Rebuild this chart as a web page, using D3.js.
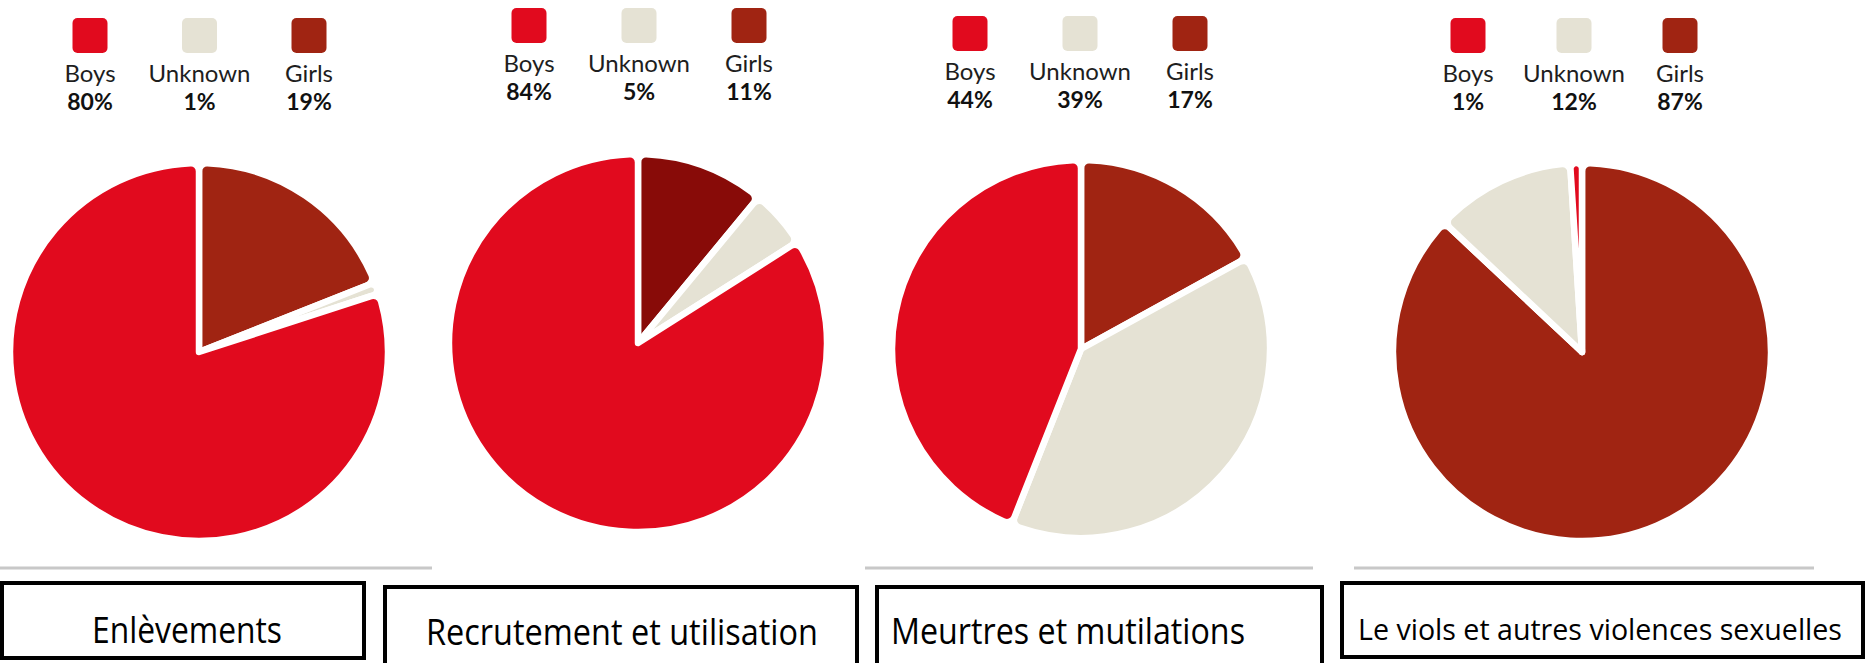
<!DOCTYPE html>
<html>
<head>
<meta charset="utf-8">
<script src="https://cdn.jsdelivr.net/npm/d3@7"></script>
<style>
  html, body { margin: 0; padding: 0; background: #ffffff; }
  svg { display: block; }
</style>
</head>
<body>
<svg id="chart" width="1871" height="663"></svg>
<script>
// ---------------- DATA ----------------
const categories = ["Boys", "Unknown", "Girls"];
const chartTitles = [
  "Enlèvements",
  "Recrutement et utilisation",
  "Meurtres et mutilations",
  "Le viols et autres violences sexuelles"
];
const boysPct    = [80, 84, 44, 1];
const unknownPct = [1, 5, 39, 12];
const girlsPct   = [19, 11, 17, 87];
// slices drawn clockwise from 12 o'clock in this order
const sliceOrder = ["Girls", "Unknown", "Boys"];

// ---------------- STYLE / LAYOUT ----------------
const categoryColors = ["#E10A1E", "#E5E2D4", "#A02412"];
const panels = [
  { cx: 199,  cy: 352, legendX: [90, 199.5, 309],  legendTop: 18, girlsSlice: null,
    box: [0, 581, 366, 79],   titleX: 187,  titleY: 643, titleSize: 37, titleW: 190, rule: [0, 432] },
  { cx: 638,  cy: 343, legendX: [529, 639, 749],   legendTop: 8,  girlsSlice: "#880B08",
    box: [383, 585, 476, 82], titleX: 622,  titleY: 645, titleSize: 37, titleW: 392, rule: null },
  { cx: 1081, cy: 349, legendX: [970, 1080, 1190], legendTop: 16, girlsSlice: null,
    box: [875, 585, 449, 82], titleX: 1068, titleY: 644, titleSize: 37, titleW: 354, rule: [865, 1313] },
  { cx: 1582, cy: 352, legendX: [1468, 1574, 1680], legendTop: 18, girlsSlice: null,
    box: [1340, 581, 525, 78], titleX: 1600, titleY: 640, titleSize: 30, titleW: 484, rule: [1354, 1814] }
];
const radius = 189;
const ruleY = 568;

// ---------------- DRAW ----------------
const svg = d3.select("#chart");
const color = d3.scaleOrdinal().domain(categories).range(categoryColors);

const pie = d3.pie().sort(null).value(d => d.value).startAngle(0).endAngle(2 * Math.PI);
const arc = d3.arc().innerRadius(0).outerRadius(radius).cornerRadius(8);

const valuesByCat = { Boys: boysPct, Unknown: unknownPct, Girls: girlsPct };

panels.forEach((p, i) => {
  const g = svg.append("g");

  // pie
  const sliceData = sliceOrder.map(c => ({ cat: c, value: valuesByCat[c][i] }));
  g.append("g")
    .attr("transform", `translate(${p.cx},${p.cy})`)
    .selectAll("path")
    .data(pie(sliceData))
    .join("path")
    .attr("d", arc)
    .attr("fill", d => (d.data.cat === "Girls" && p.girlsSlice) ? p.girlsSlice : color(d.data.cat))
    .attr("stroke", "#ffffff")
    .attr("stroke-width", 6.5)
    .attr("stroke-linejoin", "round");

  // legend
  const leg = g.append("g");
  categories.forEach((c, k) => {
    const x = p.legendX[k];
    leg.append("rect")
      .attr("x", x - 17.5).attr("y", p.legendTop)
      .attr("width", 35).attr("height", 35)
      .attr("rx", 5).attr("ry", 5)
      .attr("fill", color(c));
    leg.append("text")
      .attr("x", x).attr("y", p.legendTop + 64)
      .attr("text-anchor", "middle")
      .attr("font-family", "Lato, 'Open Sans', sans-serif")
      .attr("font-size", 24)
      .attr("fill", "#1e1e1e")
      .text(c);
    leg.append("text")
      .attr("x", x).attr("y", p.legendTop + 92)
      .attr("text-anchor", "middle")
      .attr("font-family", "Lato, 'Open Sans', sans-serif")
      .attr("font-weight", "bold")
      .attr("font-size", 23)
      .attr("fill", "#111111")
      .text(valuesByCat[c][i] + "%");
  });

  // grey rule
  if (p.rule) {
    g.append("line")
      .attr("x1", p.rule[0]).attr("x2", p.rule[1])
      .attr("y1", ruleY).attr("y2", ruleY)
      .attr("stroke", "#c8c8c8").attr("stroke-width", 3);
  }

  // title box
  g.append("rect")
    .attr("x", p.box[0] + 2).attr("y", p.box[1] + 2)
    .attr("width", p.box[2] - 4).attr("height", p.box[3] - 4)
    .attr("fill", "none").attr("stroke", "#000000").attr("stroke-width", 4);
  g.append("text")
    .attr("x", p.titleX).attr("y", p.titleY)
    .attr("text-anchor", "middle")
    .attr("font-family", "'Open Sans', 'Noto Sans', sans-serif")
    .attr("font-size", p.titleSize)
    .attr("textLength", p.titleW)
    .attr("lengthAdjust", "spacingAndGlyphs")
    .attr("fill", "#000000")
    .text(chartTitles[i]);
});
</script>
</body>
</html>
